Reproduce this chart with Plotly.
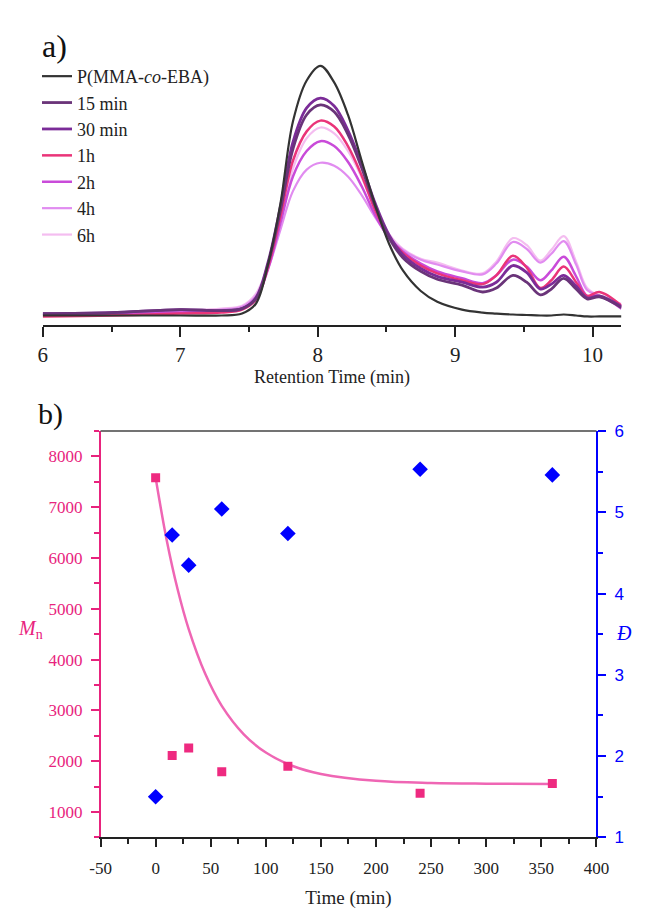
import plotly.graph_objects as go

# ---------------- Panel a) GPC traces ----------------
ret_time = [6.0, 6.5, 7.0, 7.3, 7.45, 7.55, 7.64, 7.73, 7.82, 7.92, 8.02, 8.12, 8.22, 8.32,
            8.42, 8.52, 8.62, 8.75, 8.87, 9.05, 9.2, 9.3, 9.42, 9.52, 9.62, 9.7, 9.79, 9.88,
            9.96, 10.05, 10.21]

sig_copolymer = [10, 10, 10, 10, 12, 22, 63, 125, 208, 250, 265, 248, 215, 168, 122, 83, 56, 35,
                 24, 16, 13, 12, 11, 10.5, 10, 10, 11, 10, 9, 9, 9]
sig_15min = [12, 13, 16, 15, 17, 27, 63, 118, 180, 215, 225, 218, 195, 161, 121, 89, 69, 55,
             47, 41, 34, 38, 51, 44, 31, 37, 48, 37, 27, 29, 18]
sig_30min = [12, 13, 16, 15, 17, 28, 65, 122, 187, 222, 232, 224, 199, 164, 124, 92, 72, 58,
             50, 44, 39, 44, 61, 54, 37, 42, 51, 40, 28, 30, 19]
sig_1h = [9, 10, 12, 13, 16, 26, 60, 112, 168, 198, 209, 203, 183, 153, 117, 90, 74, 61,
          53, 46, 42, 51, 71, 59, 38, 46, 60, 44, 30, 34, 20]
sig_2h = [10, 11, 13, 14, 17, 27, 58, 105, 152, 178, 188, 183, 167, 142, 112, 89, 75, 63,
          55, 48, 43, 51, 67, 60, 46, 56, 70, 50, 30, 30, 17]
sig_4h = [11, 12, 14, 16, 19, 30, 58, 98, 137, 159, 166, 163, 152, 133, 110, 90, 77, 67,
          62, 55, 52, 63, 85, 78, 64, 73, 86, 62, 36, 30, 20]
sig_6h = [12, 13, 15, 17, 20, 32, 62, 108, 160, 191, 202, 196, 178, 151, 118, 93, 78, 68,
          64, 56, 53, 65, 89, 82, 66, 77, 91, 65, 38, 30, 22]

trace_names = ["P(MMA-<i>co</i>-EBA)", "15 min", "30 min", "1h", "2h", "4h", "6h"]
trace_data = [sig_copolymer, sig_15min, sig_30min, sig_1h, sig_2h, sig_4h, sig_6h]
trace_colors = ["#333333", "#6a3479", "#7b2c98", "#ea3479", "#c94bd9", "#e18cf0", "#f4bdf0"]
trace_widths = [2.2, 2.8, 2.8, 2.5, 2.5, 2.2, 2.2]

ret_ticks = [6, 7, 8, 9, 10]

# ---------------- Panel b) Mn and dispersity ----------------
time_min = [0, 15, 30, 60, 120, 240, 360]
mn_values = [7580, 2110, 2260, 1790, 1900, 1370, 1560]
dispersity = [1.5, 4.72, 4.35, 5.04, 4.74, 5.53, 5.46]
fit_time = [0, 10, 20, 30, 45, 60, 80, 100, 125, 150, 200, 250, 300, 360]
fit_mn = [7580, 6355, 5379, 4600, 3720, 3090, 2530, 2170, 1900, 1750, 1614, 1570, 1557, 1552]

time_ticks = [-50, 0, 50, 100, 150, 200, 250, 300, 350, 400]
time_ticklabels = ["-50", "0", "50", "100", "150", "200", "250", "300", "350", "400"]
mn_ticks = [1000, 2000, 3000, 4000, 5000, 6000, 7000, 8000]
d_ticks = [1, 2, 3, 4, 5, 6]

W, H = 646, 913
PINK = "#e8237d"
BLUE = "#0000ff"
SERIF = "Liberation Serif, Times New Roman, serif"
SANS = "Liberation Sans, Arial, sans-serif"
INK = "#222222"

fig = go.Figure()

order = [6, 5, 4, 3, 2, 1, 0]
for i in order:
    fig.add_trace(go.Scatter(
        x=ret_time, y=trace_data[i], mode="lines", name=trace_names[i],
        line=dict(color=trace_colors[i], width=trace_widths[i], shape="spline", smoothing=1.0),
        xaxis="x", yaxis="y", legendrank=i + 1, showlegend=True))

fig.add_trace(go.Scatter(
    x=fit_time, y=fit_mn, mode="lines", line=dict(color="#ef66b4", width=2.5, shape="spline"),
    xaxis="x2", yaxis="y2", showlegend=False))
fig.add_trace(go.Scatter(
    x=time_min, y=mn_values, mode="markers",
    marker=dict(symbol="square", size=9, color="#ee2a80"),
    xaxis="x2", yaxis="y2", showlegend=False))
fig.add_trace(go.Scatter(
    x=time_min, y=dispersity, mode="markers",
    marker=dict(symbol="diamond", size=12, color=BLUE),
    xaxis="x2", yaxis="y3", showlegend=False))


def px(x):
    return x / W


def py(y):
    return 1 - y / H


fig.update_layout(
    width=W, height=H, margin=dict(l=0, r=0, t=0, b=0),
    paper_bgcolor="white", plot_bgcolor="white",
    font=dict(family=SERIF, color=INK),
    showlegend=True,
    legend=dict(x=px(27), y=py(50), xanchor="left", yanchor="top",
                bgcolor="rgba(0,0,0,0)", font=dict(family=SERIF, size=18, color=INK),
                tracegroupgap=0, itemwidth=30),
    xaxis=dict(domain=[px(33), px(634)], range=[6, 10.21], anchor="y",
               showline=True, linecolor=INK, linewidth=1.5,
               ticks="outside", ticklen=10, tickwidth=1.5, tickcolor=INK,
               tickvals=ret_ticks, showgrid=False, zeroline=False,
               minor=dict(ticks="outside", ticklen=5, tickwidth=1.5, tickcolor=INK, dtick=0.5, tick0=6),
               tickfont=dict(family=SERIF, size=21, color=INK),
               title=dict(text="Retention Time (min)", font=dict(family=SERIF, size=18, color=INK),
                          standoff=0)),
    yaxis=dict(domain=[py(323), py(40)], range=[0, 283], anchor="x", visible=False,
               showgrid=False, zeroline=False),
    xaxis2=dict(domain=[px(93), px(608)], range=[-50, 400], anchor="y2",
                showline=True, linecolor=INK, linewidth=1.5,
                ticks="outside", ticklen=8, tickwidth=1.5, tickcolor=INK,
                tickvals=time_ticks, ticktext=time_ticklabels, showgrid=False, zeroline=False,
                minor=dict(ticks="outside", ticklen=5, tickwidth=1.5, tickcolor=INK, dtick=25, tick0=-50),
                tickfont=dict(family=SERIF, size=17, color=INK), ticklabelstandoff=6,
                title=dict(text="Time (min)", font=dict(family=SERIF, size=19, color=INK),
                           standoff=14)),
    yaxis2=dict(domain=[py(846), py(431)], range=[500, 8500], anchor="x2",
                showline=True, linecolor=PINK, linewidth=1.5,
                ticks="outside", ticklen=8, tickwidth=1.5, tickcolor=PINK,
                tickvals=mn_ticks, showgrid=False, zeroline=False,
                minor=dict(ticks="outside", ticklen=5, tickwidth=1.5, tickcolor=PINK, dtick=500, tick0=500),
                tickfont=dict(family=SERIF, size=17, color=PINK), ticklabelstandoff=5),
    yaxis3=dict(domain=[py(846), py(431)], range=[1, 6], anchor="x2", overlaying="y2", side="right",
                showline=True, linecolor=BLUE, linewidth=1.5,
                ticks="outside", ticklen=8, tickwidth=1.5, tickcolor=BLUE,
                tickvals=d_ticks, showgrid=False, zeroline=False,
                minor=dict(ticks="outside", ticklen=5, tickwidth=1.5, tickcolor=BLUE, dtick=0.5, tick0=1),
                tickfont=dict(family=SANS, size=17, color=BLUE), ticklabelstandoff=5),
)

fig.add_shape(type="line", xref="x2 domain", yref="y2 domain", x0=0, x1=1, y0=1, y1=1,
              line=dict(color="#444444", width=1.5))

fig.add_annotation(text="a)", x=px(30), y=py(38), xref="paper", yref="paper",
                   xanchor="left", yanchor="middle", showarrow=False,
                   font=dict(family=SERIF, size=32, color="#111111"))
fig.add_annotation(text="b)", x=px(26), y=py(414), xref="paper", yref="paper",
                   xanchor="left", yanchor="middle", showarrow=False,
                   font=dict(family=SERIF, size=30, color="#111111"))
fig.add_annotation(text="<i>M</i><sub>n</sub>", x=px(20), y=py(634), xref="paper", yref="paper",
                   xanchor="center", yanchor="middle", showarrow=False,
                   font=dict(family=SERIF, size=20, color=PINK))
fig.add_annotation(text="<i>Đ</i>", x=px(637), y=py(637), xref="paper", yref="paper",
                   xanchor="center", yanchor="middle", showarrow=False,
                   font=dict(family=SERIF, size=20, color=BLUE))

fig.write_html("out.html")
